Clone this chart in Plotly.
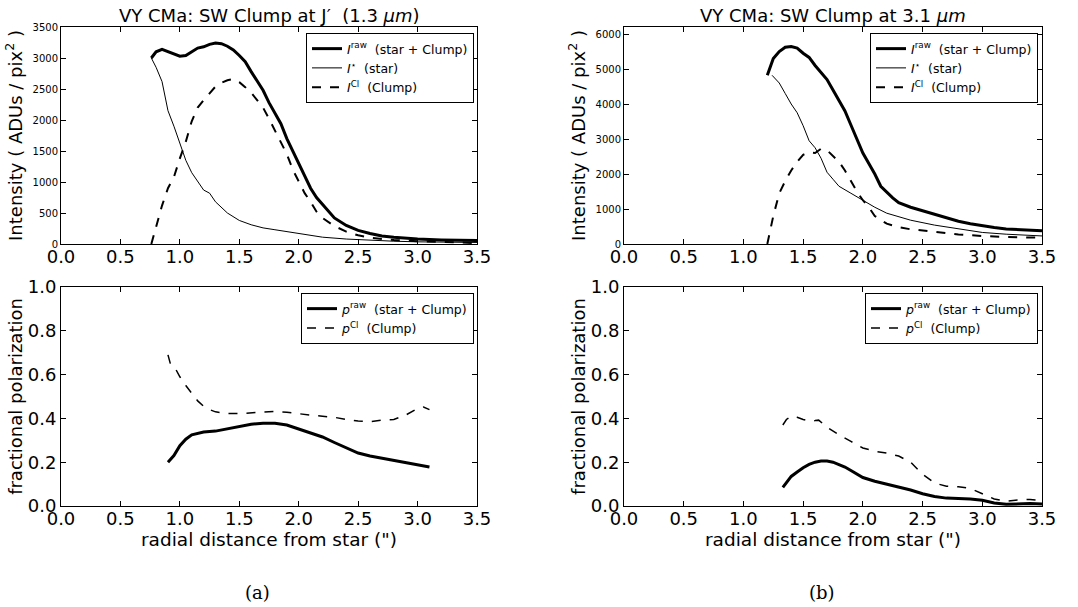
import plotly.graph_objects as go

# ---------------- data ----------------
# Panel (a) top: J' (1.3 um) intensities
a_raw_x = [0.76, 0.80, 0.85, 0.90, 0.95, 1.00, 1.05, 1.10, 1.15, 1.20, 1.25, 1.30, 1.35, 1.40, 1.45, 1.50,
           1.55, 1.60, 1.65, 1.70, 1.75, 1.80, 1.85, 1.90, 1.95, 2.00, 2.05, 2.10, 2.15, 2.20, 2.25, 2.30,
           2.40, 2.50, 2.60, 2.70, 2.80, 2.90, 3.00, 3.20, 3.50]
a_raw_y = [3000, 3100, 3140, 3100, 3060, 3030, 3040, 3100, 3160, 3180, 3220, 3240, 3230, 3190, 3130, 3040,
           2940, 2780, 2640, 2480, 2280, 2100, 1940, 1700, 1500, 1280, 1080, 900, 750, 640, 520, 420,
           300, 220, 170, 130, 110, 90, 80, 65, 55]
a_star_x = [0.76, 0.80, 0.85, 0.90, 0.95, 1.00, 1.05, 1.10, 1.15, 1.20, 1.25, 1.30, 1.40, 1.50, 1.60, 1.70,
            1.80, 1.90, 2.00, 2.20, 2.40, 2.60, 2.80, 3.00, 3.50]
a_star_y = [3000, 2850, 2620, 2150, 1900, 1640, 1350, 1150, 1000, 870, 820, 680, 500, 380, 310, 260,
            230, 200, 160, 110, 80, 60, 45, 35, 25]
a_cl_x = [0.76, 0.80, 0.85, 0.90, 0.95, 1.00, 1.05, 1.10, 1.15, 1.20, 1.25, 1.30, 1.35, 1.40, 1.45, 1.50,
          1.55, 1.60, 1.65, 1.70, 1.75, 1.80, 1.85, 1.90, 1.95, 2.00, 2.05, 2.10, 2.15, 2.20, 2.30, 2.40,
          2.50, 2.60, 2.80, 3.00, 3.50]
a_cl_y = [0, 280, 620, 900, 1080, 1380, 1650, 1980, 2200, 2320, 2430, 2540, 2600, 2640, 2660, 2610,
          2530, 2440, 2320, 2200, 2020, 1830, 1660, 1450, 1200, 1000, 820, 680, 520, 420, 290, 200,
          140, 100, 65, 45, 15]

# Panel (b) top: 3.1 um intensities
b_raw_x = [1.20, 1.25, 1.30, 1.35, 1.40, 1.45, 1.50, 1.55, 1.60, 1.65, 1.70, 1.75, 1.80, 1.85, 1.90, 1.95,
           2.00, 2.05, 2.10, 2.15, 2.20, 2.25, 2.30, 2.40, 2.50, 2.60, 2.70, 2.80, 2.90, 3.00, 3.10, 3.20,
           3.35, 3.50]
b_raw_y = [4820, 5300, 5500, 5620, 5640, 5600, 5450, 5330, 5100, 4900, 4700, 4400, 4100, 3800, 3400, 3000,
           2600, 2300, 2000, 1650, 1480, 1320, 1180, 1050, 950, 850, 750, 650, 580, 520, 470, 430,
           400, 380]
b_star_x = [1.24, 1.30, 1.35, 1.40, 1.45, 1.50, 1.55, 1.60, 1.65, 1.70, 1.75, 1.80, 1.90, 2.00, 2.10, 2.20,
            2.30, 2.40, 2.60, 2.80, 3.00, 3.20, 3.50]
b_star_y = [4820, 4600, 4300, 4000, 3750, 3380, 2950, 2750, 2450, 2050, 1850, 1650, 1450, 1250, 1050, 880,
            780, 680, 540, 430, 330, 280, 230]
b_cl_x = [1.20, 1.25, 1.30, 1.35, 1.40, 1.45, 1.50, 1.55, 1.60, 1.65, 1.70, 1.75, 1.80, 1.85, 1.90, 1.95,
          2.00, 2.05, 2.10, 2.15, 2.20, 2.30, 2.40, 2.60, 2.80, 3.00, 3.20, 3.50]
b_cl_y = [0, 800, 1450, 1800, 2100, 2350, 2550, 2620, 2600, 2720, 2680, 2520, 2350, 2100, 1800, 1500,
          1250, 1050, 800, 680, 580, 480, 420, 350, 270, 230, 200, 180]

# Panel (a) bottom: fractional polarization
a_praw_x = [0.90, 0.95, 1.00, 1.05, 1.10, 1.15, 1.20, 1.30, 1.40, 1.50, 1.60, 1.70, 1.80, 1.90, 2.00, 2.10,
            2.20, 2.30, 2.40, 2.50, 2.60, 2.70, 2.80, 2.90, 3.00, 3.10]
a_praw_y = [0.20, 0.23, 0.275, 0.305, 0.325, 0.333, 0.338, 0.342, 0.352, 0.362, 0.373, 0.378, 0.378, 0.370,
            0.352, 0.335, 0.315, 0.290, 0.265, 0.242, 0.228, 0.218, 0.208, 0.198, 0.188, 0.178]
a_pcl_x = [0.90, 0.92, 0.95, 1.00, 1.05, 1.10, 1.15, 1.20, 1.25, 1.30, 1.40, 1.50, 1.60, 1.70, 1.80, 1.90,
           2.00, 2.10, 2.20, 2.30, 2.40, 2.50, 2.60, 2.70, 2.80, 2.90, 3.00, 3.05, 3.10]
a_pcl_y = [0.69, 0.65, 0.64, 0.59, 0.55, 0.515, 0.48, 0.455, 0.44, 0.43, 0.422, 0.422, 0.425, 0.43, 0.432,
           0.428, 0.42, 0.415, 0.41, 0.405, 0.395, 0.388, 0.385, 0.392, 0.395, 0.415, 0.445, 0.452, 0.44]

# Panel (b) bottom: fractional polarization
b_praw_x = [1.33, 1.40, 1.45, 1.50, 1.55, 1.60, 1.65, 1.70, 1.75, 1.80, 1.85, 1.90, 1.95, 2.00, 2.10, 2.20,
            2.30, 2.40, 2.50, 2.60, 2.70, 2.80, 2.90, 3.00, 3.10, 3.20, 3.30, 3.40, 3.50]
b_praw_y = [0.085, 0.135, 0.155, 0.175, 0.19, 0.20, 0.205, 0.205, 0.20, 0.19, 0.178, 0.162, 0.145, 0.13,
            0.113, 0.10, 0.088, 0.073, 0.056, 0.043, 0.036, 0.034, 0.032, 0.026, 0.014, 0.008, 0.010,
            0.011, 0.009]
b_pcl_x = [1.33, 1.36, 1.40, 1.45, 1.50, 1.55, 1.60, 1.63, 1.70, 1.80, 1.90, 2.00, 2.10, 2.20, 2.30, 2.40,
           2.50, 2.60, 2.70, 2.80, 2.90, 3.00, 3.10, 3.20, 3.30, 3.40, 3.50]
b_pcl_y = [0.37, 0.395, 0.41, 0.405, 0.395, 0.388, 0.39, 0.392, 0.36, 0.325, 0.295, 0.265, 0.25, 0.242,
           0.228, 0.20, 0.145, 0.105, 0.09, 0.088, 0.08, 0.055, 0.032, 0.022, 0.028, 0.03, 0.025]

int_ticks_a = [0, 500, 1000, 1500, 2000, 2500, 3000, 3500]
int_ticks_b = [0, 1000, 2000, 3000, 4000, 5000, 6000]
x_ticks = [0.0, 0.5, 1.0, 1.5, 2.0, 2.5, 3.0, 3.5]
p_ticks = [0.0, 0.2, 0.4, 0.6, 0.8, 1.0]

# ---------------- figure ----------------
FONT = "DejaVu Sans"
fig = go.Figure()

def line(x, y, name, xa, ya, lg, width, dash="solid"):
    fig.add_trace(go.Scatter(x=x, y=y, mode="lines", name=name, xaxis=xa, yaxis=ya, legend=lg,
                             line=dict(color="black", width=width, dash=dash)))

line(a_raw_x, a_raw_y, "<i>I</i><sup>raw</sup>  (star + Clump)", "x", "y", "legend", 3)
line(a_star_x, a_star_y, "<i>I</i><sup>⋆</sup>  (star)", "x", "y", "legend", 1)
line(a_cl_x, a_cl_y, "<i>I</i><sup>Cl</sup>  (Clump)", "x", "y", "legend", 2, "dash")

line(b_raw_x, b_raw_y, "<i>I</i><sup>raw</sup>  (star + Clump)", "x2", "y2", "legend2", 3)
line(b_star_x, b_star_y, "<i>I</i><sup>⋆</sup>  (star)", "x2", "y2", "legend2", 1)
line(b_cl_x, b_cl_y, "<i>I</i><sup>Cl</sup>  (Clump)", "x2", "y2", "legend2", 2, "dash")

line(a_praw_x, a_praw_y, "<i>p</i><sup>raw</sup>  (star + Clump)", "x3", "y3", "legend3", 3)
line(a_pcl_x, a_pcl_y, "<i>p</i><sup>Cl</sup>  (Clump)", "x3", "y3", "legend3", 1.5, "dash")

line(b_praw_x, b_praw_y, "<i>p</i><sup>raw</sup>  (star + Clump)", "x4", "y4", "legend4", 3)
line(b_pcl_x, b_pcl_y, "<i>p</i><sup>Cl</sup>  (Clump)", "x4", "y4", "legend4", 1.5, "dash")

W, H = 1078, 607
def px(v): return v / W
def py(v): return 1 - v / H

xa_dom = [px(61), px(477)]
xb_dom = [px(624), px(1042)]
top_dom = [py(244), py(27)]
bot_dom = [py(506), py(287)]

axis_common = dict(showline=True, linecolor="black", linewidth=1, mirror="ticks", ticks="inside",
                   ticklen=5, tickcolor="black", showgrid=False, zeroline=False, automargin=False,
                   tickfont=dict(family=FONT, size=18, color="black"))

def xaxis(dom, anchor, title=None):
    d = dict(axis_common, domain=dom, anchor=anchor, range=[0, 3.5], tickvals=x_ticks,
             ticktext=[f"{v:.1f}" for v in x_ticks], ticklabelstandoff=-4)
    if title:
        d["title"] = dict(text=title, font=dict(family=FONT, size=18.5, color="black"), standoff=4)
    return d

def yaxis(dom, anchor, rng, tv, tt, fs, title, standoff):
    d = dict(axis_common, domain=dom, anchor=anchor, range=rng, tickvals=tv, ticktext=tt)
    d["tickfont"] = dict(family=FONT, size=fs, color="black")
    d["title"] = dict(text=title, font=dict(family=FONT, size=18, color="black"), standoff=standoff)
    return d

int_title = "Intensity ( ADUs / pix<sup>2</sup> )"
pol_title = "fractional polarization"

legend_common = dict(bgcolor="white", bordercolor="black", borderwidth=1,
                     font=dict(family=FONT, size=12.5, color="black"),
                     xanchor="right", yanchor="top", itemwidth=30, tracegroupgap=0)

fig.update_layout(
    template="none",
    width=W, height=H, margin=dict(l=0, r=0, t=0, b=0, autoexpand=False),
    paper_bgcolor="white", plot_bgcolor="white", showlegend=True,
    xaxis=xaxis(xa_dom, "y"),
    yaxis=yaxis(top_dom, "x", [0, 3500], int_ticks_a, [str(v) for v in int_ticks_a], 10, int_title, 5),
    xaxis2=xaxis(xb_dom, "y2"),
    yaxis2=yaxis(top_dom, "x2", [0, 6200], int_ticks_b, [str(v) for v in int_ticks_b], 10, int_title, 5),
    xaxis3=xaxis(xa_dom, "y3", "radial distance from star (\")"),
    yaxis3=yaxis(bot_dom, "x3", [0, 1.0], p_ticks, [f"{v:.1f}" for v in p_ticks], 18, pol_title, 0),
    xaxis4=xaxis(xb_dom, "y4", "radial distance from star (\")"),
    yaxis4=yaxis(bot_dom, "x4", [0, 1.0], p_ticks, [f"{v:.1f}" for v in p_ticks], 18, pol_title, 0),
    legend=dict(legend_common, x=px(474), y=py(33)),
    legend2=dict(legend_common, x=px(1038), y=py(33)),
    legend3=dict(legend_common, x=px(474), y=py(293)),
    legend4=dict(legend_common, x=px(1038), y=py(293)),
    annotations=[
        dict(text="VY CMa: SW Clump at J′  (1.3 <i>μm</i>)", x=(xa_dom[0] + xa_dom[1]) / 2, y=py(15),
             xref="paper", yref="paper", showarrow=False, xanchor="center", yanchor="middle",
             font=dict(family=FONT, size=18, color="black")),
        dict(text="VY CMa: SW Clump at 3.1 <i>μm</i>", x=(xb_dom[0] + xb_dom[1]) / 2, y=py(15),
             xref="paper", yref="paper", showarrow=False, xanchor="center", yanchor="middle",
             font=dict(family=FONT, size=18, color="black")),
        dict(text="(a)", x=px(257), y=py(592), xref="paper", yref="paper", showarrow=False,
             xanchor="center", yanchor="middle", font=dict(family="DejaVu Serif", size=18, color="black")),
        dict(text="(b)", x=px(822), y=py(592), xref="paper", yref="paper", showarrow=False,
             xanchor="center", yanchor="middle", font=dict(family="DejaVu Serif", size=18, color="black")),
    ],
)

fig.write_html("out.html")
